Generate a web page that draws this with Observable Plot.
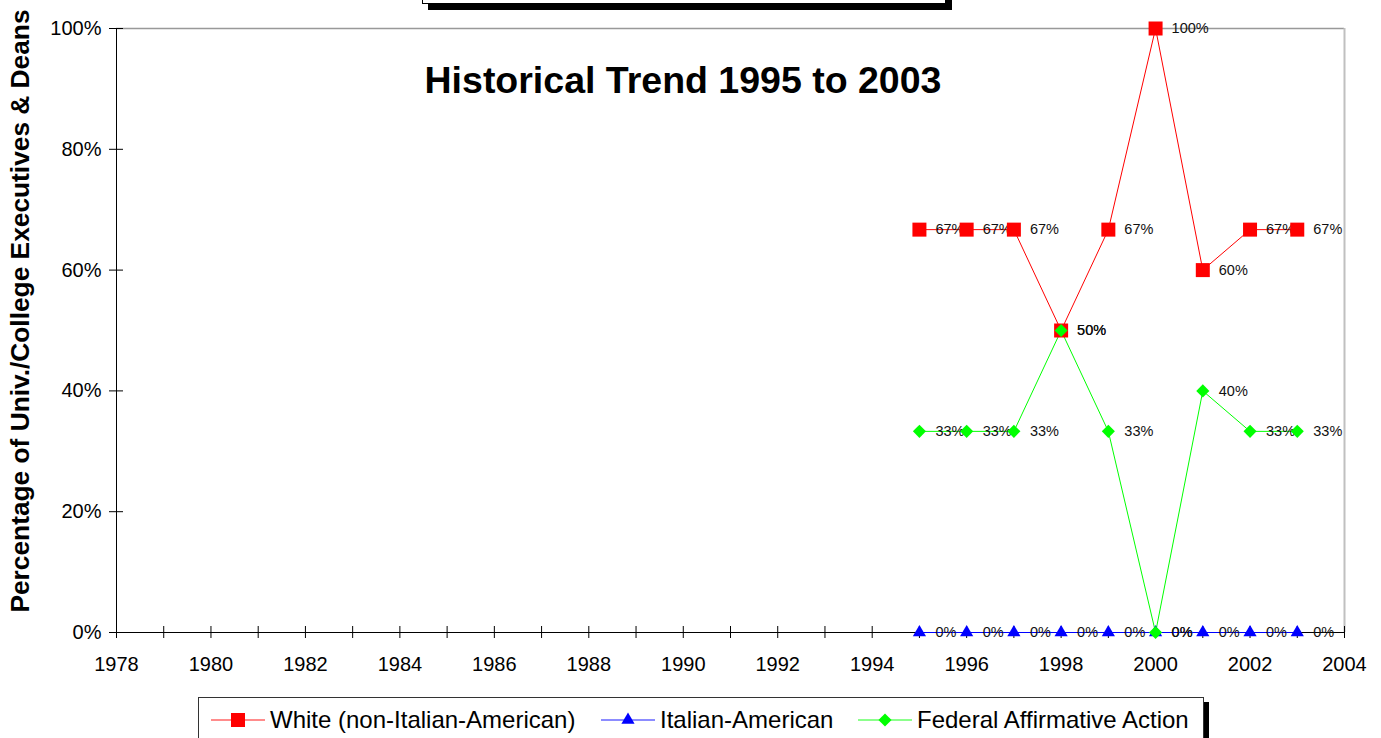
<!DOCTYPE html>
<html>
<head>
<meta charset="utf-8">
<script src="https://cdn.jsdelivr.net/npm/d3@7"></script>
<script src="https://cdn.jsdelivr.net/npm/@observablehq/plot@0.6"></script>
<style>
  html, body { margin: 0; padding: 0; background: #fff; }
  #wrap { position: relative; width: 1381px; height: 738px; overflow: hidden; font-family: "Liberation Sans", Arial, sans-serif; }
  #chart { position: absolute; left: 0; top: 0; }
  .abs { position: absolute; }
  #title { left: 0; width: 1366px; top: 59px; text-align: center; font-weight: bold; font-size: 37.5px; color: #000; white-space: nowrap; }
  #ylabel { left: 20px; top: 311px; transform: translate(-50%, -50%) rotate(-90deg); font-weight: bold; font-size: 26.3px; white-space: nowrap; color: #000; }
  #topbox { left: 422px; top: -20px; width: 522px; height: 22px; border: 1px solid #000; background: #fff; box-shadow: 6px 6px 0 #000; }
  #legend { left: 198px; top: 697px; width: 1004px; height: 60px; border: 1px solid #333; background: #fff; box-shadow: 5px 5px 0 #000; }
  .item { position: absolute; top: 8px; display: flex; align-items: center; font-size: 24px; white-space: nowrap; color: #000; }
  .item svg { margin-right: 5px; }
</style>
</head>
<body>
<div id="wrap">
  <div id="chart"></div>
  <div id="topbox" class="abs"></div>
  <div id="title" class="abs"></div>
  <div id="ylabel" class="abs"></div>
  <div id="legend" class="abs"></div>
</div>
<script>
const titleText = "Historical Trend 1995 to 2003";
const yLabel = "Percentage of Univ./College Executives & Deans";
const seriesNames = ["White (non-Italian-American)", "Italian-American", "Federal Affirmative Action"];
const seriesColors = ["#ff0000", "#0000ff", "#00ff00"];
const seriesSymbols = ["square", "triangle", "diamond2"];
const years = [1995, 1996, 1997, 1998, 1999, 2000, 2001, 2002, 2003];
const white = [0.667, 0.667, 0.667, 0.5, 0.667, 1.0, 0.6, 0.667, 0.667];
const italian = [0, 0, 0, 0, 0, 0, 0, 0, 0];
const federal = [0.333, 0.333, 0.333, 0.5, 0.333, 0, 0.4, 0.333, 0.333];
const xTickLabels = [1978, 1980, 1982, 1984, 1986, 1988, 1990, 1992, 1994, 1996, 1998, 2000, 2002, 2004];
const xTickMarks = d3.range(1978, 2005);
const yTicks = [0, 0.2, 0.4, 0.6, 0.8, 1.0];

const allValues = [white, italian, federal];
const fmt = d3.format(".0%");
const symR = { square: 7.9, triangle: 4.9, diamond2: 5.9 };

const marks = [
  Plot.ruleY([1], { x1: 1978, x2: 2004, stroke: "#999", strokeWidth: 1.5 }),
  Plot.ruleX([2004], { y1: 0, y2: 1, stroke: "#c0c0c0", strokeWidth: 2 }),
  Plot.ruleX(xTickMarks, { x: d => d, y1: 0, y2: 0, insetTop: -6, insetBottom: -6, stroke: "#000" }),
  Plot.ruleY(yTicks, { y: d => d, x1: 1978, x2: 1978, insetLeft: -7, insetRight: -7, stroke: "#000" }),
  Plot.ruleX([1978], { y1: 0, y2: 1, stroke: "#000" }),
  Plot.ruleY([0], { x1: 1978, x2: 2004, stroke: "#000" }),
  Plot.axisX({ ticks: xTickLabels, tickFormat: d => String(d), tickSize: 0, tickPadding: 24, fontSize: 20, fill: "#000", label: null }),
  Plot.axisY({ ticks: yTicks, tickFormat: fmt, tickSize: 0, tickPadding: 15, fontSize: 20, fill: "#000", label: null })
];

allValues.forEach((vals, s) => {
  const rows = years.map((y, i) => ({ year: y, v: vals[i] }));
  marks.push(Plot.line(rows, { x: "year", y: "v", stroke: seriesColors[s], strokeWidth: 1 }));
});
allValues.forEach((vals, s) => {
  const rows = years.map((y, i) => ({ year: y, v: vals[i] }));
  marks.push(Plot.text(rows, { x: "year", y: "v", text: d => fmt(d.v), dx: 16, textAnchor: "start", fontSize: 14.5, fill: "#111" }));
});
allValues.forEach((vals, s) => {
  const rows = years.map((y, i) => ({ year: y, v: vals[i] }));
  marks.push(Plot.dot(rows, { x: "year", y: "v", symbol: () => seriesSymbols[s], r: symR[seriesSymbols[s]], fill: seriesColors[s], stroke: "none" }));
});

const chart = Plot.plot({
  width: 1381,
  height: 738,
  marginLeft: 116,
  marginRight: 37,
  marginTop: 28,
  marginBottom: 106,
  style: { fontFamily: "Liberation Sans, Arial, sans-serif", background: "#fff", color: "#000" },
  x: { domain: [1978, 2004], axis: null, label: null },
  y: { domain: [0, 1], axis: null, label: null },
  symbol: { type: "identity" },
  marks
});
document.getElementById("chart").appendChild(chart);
document.getElementById("title").textContent = titleText;
document.getElementById("ylabel").textContent = yLabel;

// legend
const legend = document.getElementById("legend");
const itemLeft = [12, 402, 659];
seriesNames.forEach((name, s) => {
  const div = document.createElement("div");
  div.className = "item";
  div.style.left = itemLeft[s] + "px";
  const svg = d3.create("svg").attr("width", 54).attr("height", 24);
  svg.append("line").attr("x1", 0).attr("x2", 54).attr("y1", 12).attr("y2", 12).attr("stroke", seriesColors[s]).attr("stroke-width", 1.5).attr("opacity", 0.6);
  const sym = { square: d3.symbolSquare, triangle: d3.symbolTriangle, diamond2: d3.symbolDiamond2 }[seriesSymbols[s]];
  const r = symR[seriesSymbols[s]];
  svg.append("path").attr("transform", "translate(27,12)").attr("d", d3.symbol(sym, r * r * Math.PI)()).attr("fill", seriesColors[s]);
  div.appendChild(svg.node());
  const span = document.createElement("span");
  span.textContent = name;
  div.appendChild(span);
  legend.appendChild(div);
});
</script>
</body>
</html>
